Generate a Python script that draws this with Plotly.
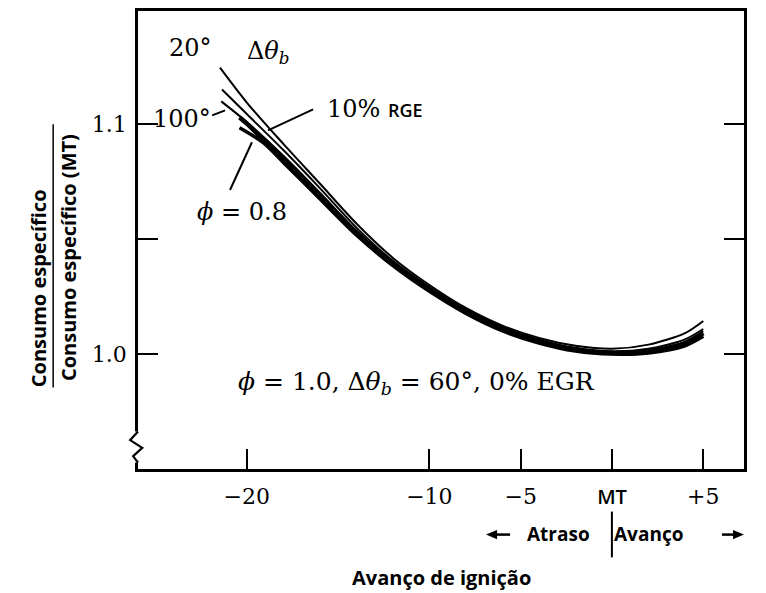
import plotly.graph_objects as go

# Ignition timing relative to MBT (degrees) and relative specific consumption
x_base = [-20.4, -20, -18, -16, -14, -12, -10, -8, -6, -4, -2, 0, 2, 4, 5]
y_base = [1.1030, 1.1003, 1.0846, 1.0685, 1.0527, 1.0392, 1.0280, 1.0184, 1.0108,
          1.0054, 1.0018, 1.0003, 1.0009, 1.0045, 1.0090]

x_phi08 = [-20.4, -19.1, -18, -16, -14, -12, -10, -8, -6, -4, -2, 0, 2, 4, 5]
y_phi08 = [1.0985, 1.0920, 1.0834, 1.0676, 1.0518, 1.0384, 1.0272, 1.0176, 1.0100,
           1.0047, 1.0012, 0.9999, 1.0004, 1.0035, 1.0076]

x_100 = [-21.4, -20, -18, -16, -14, -12, -10, -8, -6, -4, -2, 0, 2, 4, 5]
y_100 = [1.1100, 1.1010, 1.0863, 1.0702, 1.0537, 1.0398, 1.0286, 1.0189, 1.0113,
         1.0058, 1.0022, 1.0007, 1.0015, 1.0053, 1.0099]

x_rge = [-21.36, -20, -18, -16, -14, -12, -10, -8, -6, -4, -2, 0, 2, 4, 5]
y_rge = [1.1152, 1.1045, 1.0888, 1.0722, 1.0550, 1.0405, 1.0291, 1.0193, 1.0117,
         1.0062, 1.0026, 1.0011, 1.0022, 1.0063, 1.0108]

x_20 = [-21.47, -20, -18, -16, -14, -12, -10, -8, -6, -4, -2, 0, 2, 4, 5]
y_20 = [1.1247, 1.1095, 1.0915, 1.0742, 1.0568, 1.0418, 1.0300, 1.0200, 1.0123,
        1.0069, 1.0035, 1.0022, 1.0040, 1.0090, 1.0143]

x_tickvals = [-20, -10, -5, 0, 5]
x_ticktext = ["−20", "−10", "−5",
              "<span style='font-family:Open Sans;font-size:20px;font-weight:600'>MT</span>",
              "+5"]
y_tickvals = [1.0, 1.1]
y_ticktext = ["1.0", "1.1"]
y_minor_tickvals = [1.05]

SERIF = "DejaVu Serif"
SANS = "Open Sans"

fig = go.Figure()
series = [
    (x_20, y_20, 2.0),
    (x_rge, y_rge, 2.0),
    (x_100, y_100, 2.0),
    (x_phi08, y_phi08, 3.5),
    (x_base, y_base, 4.5),
]
for xs, ys, w in series:
    fig.add_trace(go.Scatter(x=xs, y=ys, mode="lines",
                             line=dict(color="black", width=w, shape="spline", smoothing=0.8),
                             showlegend=False, hoverinfo="skip"))

annotations = []


def note(text, x, y, size=24, family=SERIF, xref="x", yref="y", angle=0, xanchor="center"):
    annotations.append(dict(text=text, x=x, y=y, xref=xref, yref=yref, showarrow=False,
                            textangle=angle, xanchor=xanchor, yanchor="middle",
                            font=dict(family=family, size=size, color="black")))


# Labels inside the plot
note("20°", -23.11, 1.1333)
note("Δ<i>θ</i><sub><i>b</i></sub>", -18.8, 1.1312)
note("100°", -23.55, 1.1022)
note("10% <span style='font-family:Open Sans;font-size:18px;font-weight:600'>RGE</span>",
     -13.0, 1.1065)
note("<i>ϕ</i> = 0.8", -20.26, 1.0619)
note("<i>ϕ</i> = 1.0, Δ<i>θ</i><sub><i>b</i></sub> = 60°, 0% EGR", -10.73, 0.9874, size=25)

# Labels outside the plot
note("<b>Avanço de ignição</b>", 0.50, -0.236, size=20, family=SANS, xref="paper", yref="paper")
note("<b>Atraso</b>", 0.694, -0.143, size=19, family=SANS, xref="paper", yref="paper")
note("<b>Avanço</b>", 0.843, -0.143, size=19, family=SANS, xref="paper", yref="paper")
note("<b>Consumo específico</b>", -0.164, 0.394, size=20, family=SANS,
     xref="paper", yref="paper", angle=-90)
note("<b>Consumo específico (MT)</b>", -0.1145, 0.462, size=20, family=SANS,
     xref="paper", yref="paper", angle=-90)

line_style = dict(width=2, color="black")
shapes = [
    # leader lines from the labels to the curves
    dict(type="line", x0=-21.9, y0=1.1039, x1=-21.19, y1=1.1061, line=line_style),
    dict(type="line", x0=-16.37, y0=1.1065, x1=-18.84, y1=1.0974, line=line_style),
    dict(type="line", x0=-20.92, y0=1.0714, x1=-19.72, y1=1.0922, line=line_style),
    # separator between "Atraso" and "Avanço"
    dict(type="line", xref="paper", yref="paper", x0=0.782, x1=0.782, y0=-0.093, y1=-0.193,
         line=line_style),
    # retard arrow (pointing left)
    dict(type="line", xref="paper", yref="paper", x0=0.588, x1=0.614, y0=-0.1432, y1=-0.1432,
         line=dict(width=2.5, color="black")),
    dict(type="path", xref="paper", yref="paper",
         path="M 0.5743,-0.1432 L 0.5925,-0.1330 L 0.5925,-0.1534 Z",
         fillcolor="black", line=dict(width=0)),
    # advance arrow (pointing right)
    dict(type="line", xref="paper", yref="paper", x0=0.9637, x1=0.988, y0=-0.1432, y1=-0.1432,
         line=dict(width=2.5, color="black")),
    dict(type="path", xref="paper", yref="paper",
         path="M 1.0,-0.1432 L 0.9818,-0.1330 L 0.9818,-0.1534 Z",
         fillcolor="black", line=dict(width=0)),
    # fraction bar of the y-axis label
    dict(type="line", xref="paper", yref="paper", x0=-0.140, x1=-0.140, y0=0.753, y1=0.178,
         line=dict(width=1.5, color="black")),
    # axis break on the left axis
    dict(type="rect", xref="paper", yref="paper", x0=-0.012, x1=0.012, y0=0.014, y1=0.082,
         fillcolor="white", line=dict(width=0), layer="above"),
    dict(type="path", xref="paper", yref="paper",
         path="M 0,0.082 L -0.013,0.063 L 0.007,0.046 L -0.008,0.028 L 0,0.014",
         line=dict(width=2.2, color="black"), layer="above"),
]

fig.update_layout(
    width=766, height=593,
    margin=dict(l=138, r=22, t=8, b=124),
    paper_bgcolor="white", plot_bgcolor="white",
    annotations=annotations, shapes=shapes,
    xaxis=dict(range=[-25.96, 7.23], tickvals=x_tickvals, ticktext=x_ticktext,
               ticks="inside", ticklen=20, tickwidth=2, tickcolor="black",
               showline=True, linecolor="black", linewidth=2.5, mirror=True,
               showgrid=False, zeroline=False, ticklabelstandoff=6,
               tickfont=dict(family=SERIF, size=22, color="black")),
    yaxis=dict(range=[0.9498, 1.1494], tickvals=y_tickvals, ticktext=y_ticktext,
               ticks="inside", ticklen=20, tickwidth=2, tickcolor="black",
               minor=dict(tickvals=y_minor_tickvals, ticks="inside", ticklen=20,
                          tickwidth=2, tickcolor="black", showgrid=False),
               showline=True, linecolor="black", linewidth=2.5, mirror="ticks",
               showgrid=False, zeroline=False, ticklabelstandoff=4,
               tickfont=dict(family=SERIF, size=22, color="black")),
)

fig.write_html("out.html")
